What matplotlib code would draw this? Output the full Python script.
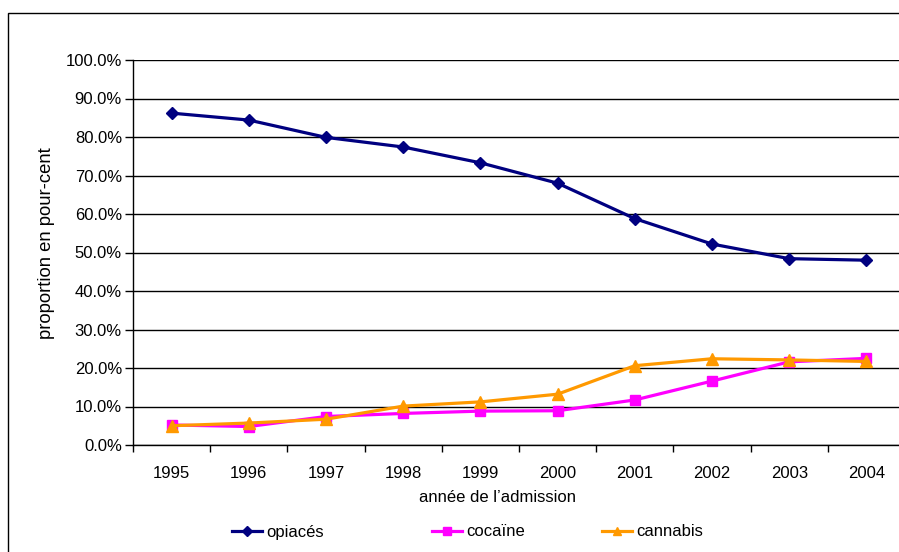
import matplotlib
matplotlib.use("Agg")
import matplotlib.pyplot as plt
from matplotlib.patches import Rectangle
from matplotlib.ticker import FixedLocator, FuncFormatter

plt.rcParams['font.family'] = ['Liberation Sans', 'DejaVu Sans']

years = ["1995", "1996", "1997", "1998", "1999", "2000", "2001", "2002", "2003", "2004"]
opiaces = [86.2, 84.4, 79.9, 77.4, 73.3, 68.0, 58.8, 52.2, 48.4, 48.0]
cocaine = [5.2, 4.8, 7.4, 8.2, 8.8, 8.9, 11.7, 16.6, 21.6, 22.5]
cannabis = [5.0, 5.7, 6.7, 10.1, 11.2, 13.2, 20.6, 22.4, 22.1, 21.7]

W, H = 899, 552
fig = plt.figure(figsize=(W / 100, H / 100), dpi=100)

left, right, bottom, top = 133, 905, 445, 60
ax = fig.add_axes([left / W, 1 - bottom / H, (right - left) / W, (bottom - top) / H])

x = list(range(len(years)))
ax.plot(x, opiaces, color='#000080', lw=2.3, marker='D', ms=6.5, label='opiacés', clip_on=False, zorder=5)
ax.plot(x, cocaine, color='#FF00FF', lw=2.3, marker='s', ms=7, label='cocaïne', clip_on=False, zorder=4)
ax.plot(x, cannabis, color='#FF9900', lw=2.3, marker='^', ms=8, label='cannabis', clip_on=False, zorder=6)

ax.set_xlim(-0.5, len(years) - 0.5)
ax.set_ylim(0, 100)
ax.yaxis.set_major_locator(FixedLocator([i * 10 for i in range(11)]))
ax.yaxis.set_major_formatter(FuncFormatter(lambda v, p: f"{v:.1f}%"))
ax.set_xticks(x)
ax.set_xticklabels(years)
ax.set_xticks([i - 0.5 for i in range(len(years) + 1)], minor=True)
ax.tick_params(axis='x', which='major', length=0, pad=15, labelsize=12)
ax.tick_params(axis='x', which='minor', length=5, width=1, direction='out', color='black')
ax.tick_params(axis='y', length=6, width=1, direction='out', pad=2, labelsize=12)
ax.grid(axis='y', color='black', lw=1)
ax.set_axisbelow(True)
for s in ['top', 'right']:
    ax.spines[s].set_visible(False)
for s in ['left', 'bottom']:
    ax.spines[s].set_linewidth(1)

fig.text(497 / W, 1 - 497 / H, "année de l’admission", ha='center', va='center', fontsize=12)
fig.text(47 / W, 1 - 243 / H, "proportion en pour-cent", ha='center', va='center', rotation=90, fontsize=13.3)

handles, labels = ax.get_legend_handles_labels()
xs = [232, 432, 602]
for hdl, lab, xp in zip(handles, labels, xs):
    fig.legend([hdl], [lab], loc='center left', bbox_to_anchor=(xp / W, 1 - 532 / H),
               frameon=False, borderpad=0, borderaxespad=0, handlelength=1.8,
               handletextpad=0.25, fontsize=12, markerscale=0.75)

fig.patches.append(Rectangle((8 / W, -0.1), 1.2, 1 - 13 / H + 0.1, transform=fig.transFigure,
                             fill=False, edgecolor='black', lw=1))

fig.savefig("out.png", dpi=100)
